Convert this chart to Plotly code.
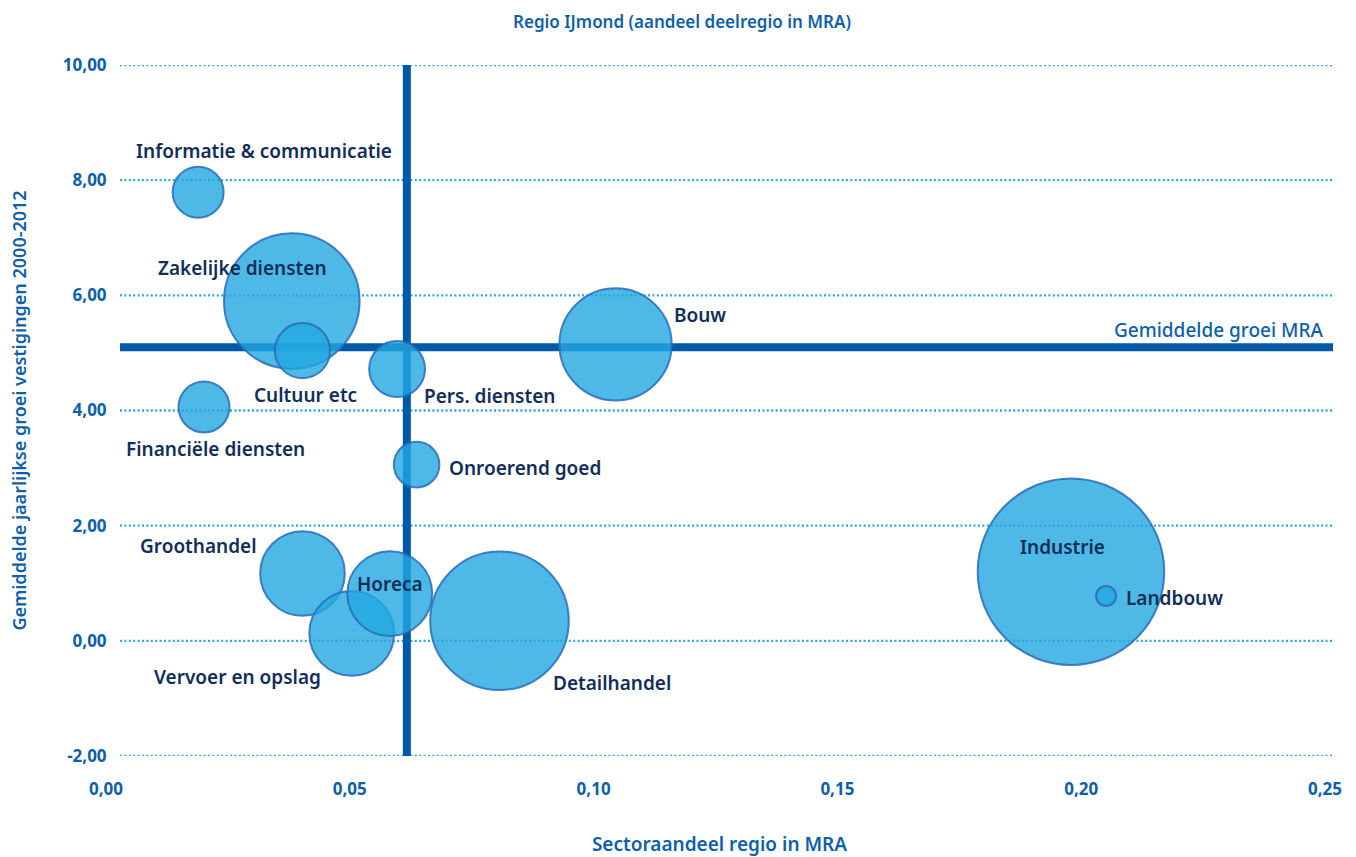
import plotly.graph_objects as go

# Sectoren in de MRA: aandeel van de regio IJmond (x), groei (y), omvang (bubbel)
sectoren = [
    "Informatie & communicatie", "Zakelijke diensten", "Cultuur etc",
    "Financiële diensten", "Pers. diensten", "Onroerend goed", "Bouw",
    "Groothandel", "Vervoer en opslag", "Horeca", "Detailhandel",
    "Industrie", "Landbouw",
]
aandeel_regio = [0.0189, 0.0381, 0.0403, 0.0201, 0.0597, 0.0637, 0.1045,
                 0.0403, 0.0504, 0.0582, 0.0807, 0.1979, 0.2051]
groei_vestigingen = [7.79, 5.90, 5.04, 4.06, 4.72, 3.06, 5.15,
                     1.17, 0.13, 0.82, 0.35, 1.20, 0.78]
omvang = [650, 4600, 760, 650, 780, 520, 3150,
          1790, 1800, 1800, 4800, 8700, 100]

gemiddelde_groei_mra = 5.10
aandeel_ijmond_mra = 0.0617

x_ticks = [0.00, 0.05, 0.10, 0.15, 0.20, 0.25]
x_labels = ["0,00", "0,05", "0,10", "0,15", "0,20", "0,25"]
y_ticks = [-2, 0, 2, 4, 6, 8, 10]
y_labels = ["-2,00", "0,00", "2,00", "4,00", "6,00", "8,00", "10,00"]

# label placement around each bubble: (xanchor, xshift, yshift)
label_pos = {
    "Informatie & communicatie": ("center", 66, 41),
    "Zakelijke diensten": ("center", -49, 33),
    "Cultuur etc": ("center", 3, -44),
    "Financiële diensten": ("center", 11, -42),
    "Pers. diensten": ("left", 25, -27),
    "Onroerend goed": ("left", 30, -3),
    "Bouw": ("left", 56, 29),
    "Groothandel": ("right", -44, 27),
    "Vervoer en opslag": ("right", -29, -44),
    "Horeca": ("center", 0, 10),
    "Detailhandel": ("left", 52, -62),
    "Industrie": ("center", -8, 25),
    "Landbouw": ("left", 18, -2),
}

FONT = "Noto Sans"
BLUE = "#0E5FAA"
NAVY = "#112E5A"
DOT = "#2AA8E0"
LINE = "#0058A8"

W, H = 1356, 857
ML, MR, MT, MB = 106, 23, 65, 101
plot_w = W - ML - MR
grid_x0 = 14 / plot_w  # dotted grid starts a little right of the axis origin

fig = go.Figure()

fig.add_trace(go.Scatter(
    x=aandeel_regio, y=groei_vestigingen, mode="markers",
    marker=dict(size=omvang, sizemode="area", sizeref=0.5, opacity=1,
                color="rgba(34,167,224,0.8)",
                line=dict(color="rgba(40,108,185,0.85)", width=2)),
    hoverinfo="skip", showlegend=False,
))

shapes = []
for yt in y_ticks:
    shapes.append(dict(type="line", xref="paper", yref="y", x0=grid_x0, x1=1,
                       y0=yt, y1=yt, layer="below",
                       line=dict(color=DOT, width=2.4, dash="2px,2.4px")))
shapes.append(dict(type="line", xref="paper", yref="y", x0=grid_x0, x1=1,
                   y0=gemiddelde_groei_mra, y1=gemiddelde_groei_mra,
                   layer="below", line=dict(color=LINE, width=8)))
shapes.append(dict(type="line", xref="x", yref="y",
                   x0=aandeel_ijmond_mra, x1=aandeel_ijmond_mra,
                   y0=y_ticks[0], y1=y_ticks[-1], layer="below",
                   line=dict(color=LINE, width=8)))

annotations = []
for naam, xv, yv in zip(sectoren, aandeel_regio, groei_vestigingen):
    anchor, dx, dy = label_pos[naam]
    annotations.append(dict(x=xv, y=yv, xref="x", yref="y", text=naam,
                            showarrow=False, xanchor=anchor, yanchor="middle",
                            xshift=dx, yshift=dy,
                            font=dict(family=FONT, size=19, color=NAVY,
                                      weight=600)))
annotations.append(dict(x=1, y=gemiddelde_groei_mra, xref="paper", yref="y",
                        text="Gemiddelde groei MRA", showarrow=False,
                        xanchor="right", yanchor="middle", xshift=-7, yshift=17,
                        font=dict(family=FONT, size=19, color=BLUE, weight=500)))

fig.update_layout(
    width=W, height=H,
    margin=dict(l=ML, r=MR, t=MT, b=MB),
    paper_bgcolor="white", plot_bgcolor="white",
    title=dict(text="Regio IJmond (aandeel deelregio in MRA)",
               x=682 / W, xref="container", xanchor="center",
               y=1 - 22 / H, yref="container", yanchor="middle",
               font=dict(family=FONT, size=17, color=BLUE, weight=600)),
    xaxis=dict(range=[0, 0.25 * plot_w / 1219], tickvals=x_ticks,
               ticktext=x_labels, showgrid=False, zeroline=False,
               showline=False, ticks="outside", ticklen=18,
               tickcolor="rgba(0,0,0,0)", automargin=False,
               tickfont=dict(family=FONT, size=17, color=BLUE, weight=700),
               title=dict(text="Sectoraandeel regio in MRA", standoff=39,
                          font=dict(family=FONT, size=19, color=BLUE,
                                    weight=600))),
    yaxis=dict(range=[-2, 10], tickvals=y_ticks, ticktext=y_labels,
               showgrid=False, zeroline=False, showline=False,
               anchor="free", position=grid_x0, ticks="outside", ticklen=10,
               tickcolor="rgba(0,0,0,0)", automargin=False,
               tickfont=dict(family=FONT, size=17, color=BLUE, weight=700),
               title=dict(text="Gemiddelde jaarlijkse groei vestigingen 2000-2012",
                          standoff=30,
                          font=dict(family=FONT, size=18, color=BLUE,
                                    weight=600))),
    shapes=shapes,
    annotations=annotations,
)

fig.write_html("out.html")
